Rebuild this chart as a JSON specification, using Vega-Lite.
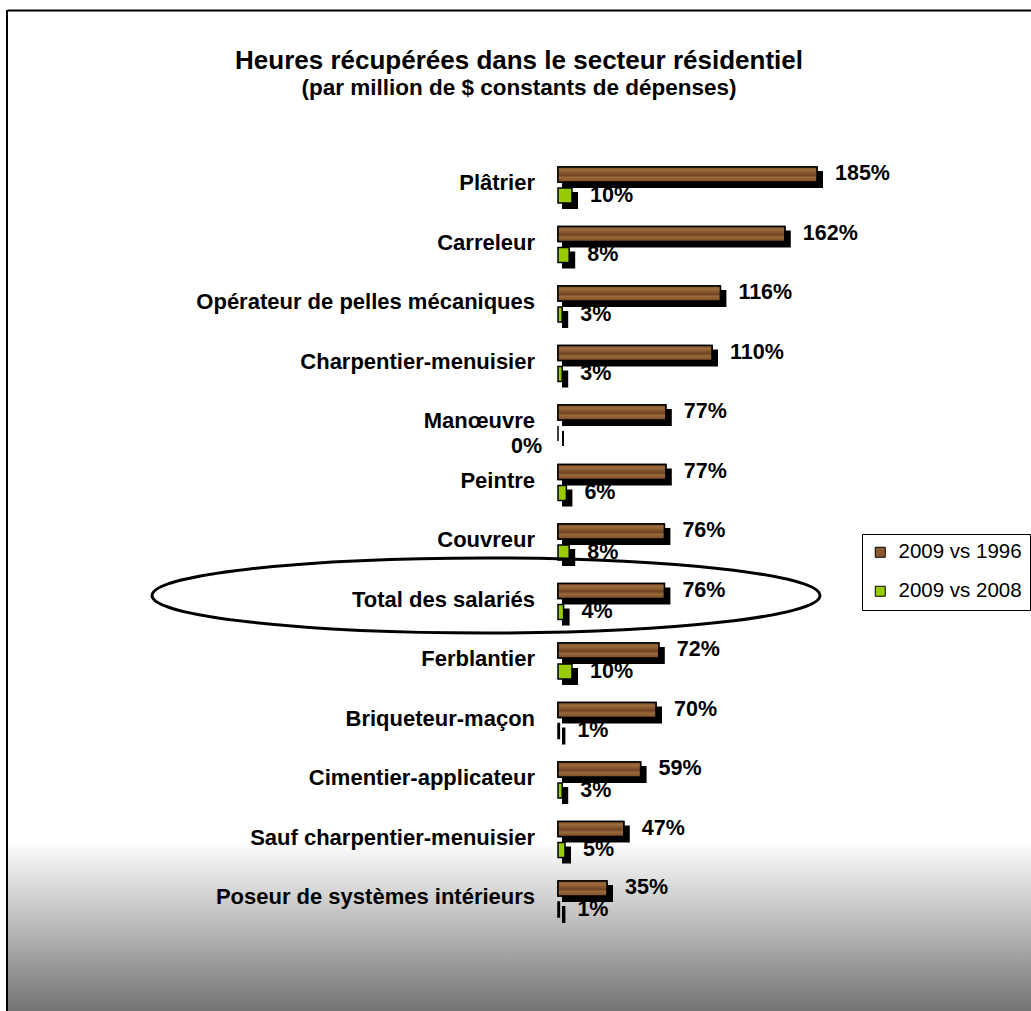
{
  "$schema": "https://vega.github.io/schema/vega-lite/v6.json",
  "width": 1024,
  "height": 1001,
  "autosize": {"type": "none"},
  "padding": {"left": 7, "top": 10, "right": 0, "bottom": 0},
  "background": "white",
  "config": {
    "font": "Liberation Sans",
    "view": {
      "stroke": null,
      "fill": {
        "gradient": "linear",
        "x1": 0, "y1": 0, "x2": 0, "y2": 1,
        "stops": [
          {"offset": 0, "color": "#ffffff"},
          {"offset": 0.83, "color": "#ffffff"},
          {"offset": 1, "color": "#747474"}
        ]
      }
    },
    "legend": {
      "orient": "none",
      "legendX": 855,
      "legendY": 524,
      "strokeColor": "black",
      "fillColor": "white",
      "padding": 8,
      "symbolType": "square",
      "symbolSize": 100,
      "symbolStrokeColor": "black",
      "symbolStrokeWidth": 1,
      "labelFont": "Liberation Sans",
      "labelFontSize": 20.5,
      "labelColor": "black",
      "labelOffset": 8,
      "rowPadding": 18,
      "labelLimit": 300
    }
  },
  "title": {
    "text": "Heures récupérées  dans le secteur  résidentiel",
    "subtitle": "(par million de $ constants de dépenses)",
    "font": "Liberation Sans",
    "fontSize": 26,
    "fontWeight": "bold",
    "color": "black",
    "subtitleFont": "Liberation Sans",
    "subtitleFontSize": 22.5,
    "subtitleFontWeight": "bold",
    "subtitleColor": "black",
    "subtitlePadding": 3,
    "anchor": "middle",
    "offset": -90
  },
  "data": {
    "values": [
      {"category": "Plâtrier", "series": "2009 vs 1996", "value": 1.85},
      {"category": "Plâtrier", "series": "2009 vs 2008", "value": 0.10},
      {"category": "Carreleur", "series": "2009 vs 1996", "value": 1.62},
      {"category": "Carreleur", "series": "2009 vs 2008", "value": 0.08},
      {"category": "Opérateur de pelles mécaniques", "series": "2009 vs 1996", "value": 1.16},
      {"category": "Opérateur de pelles mécaniques", "series": "2009 vs 2008", "value": 0.03},
      {"category": "Charpentier-menuisier", "series": "2009 vs 1996", "value": 1.10},
      {"category": "Charpentier-menuisier", "series": "2009 vs 2008", "value": 0.03},
      {"category": "Manœuvre", "series": "2009 vs 1996", "value": 0.77},
      {"category": "Manœuvre", "series": "2009 vs 2008", "value": 0.0},
      {"category": "Peintre", "series": "2009 vs 1996", "value": 0.77},
      {"category": "Peintre", "series": "2009 vs 2008", "value": 0.06},
      {"category": "Couvreur", "series": "2009 vs 1996", "value": 0.76},
      {"category": "Couvreur", "series": "2009 vs 2008", "value": 0.08},
      {"category": "Total des salariés", "series": "2009 vs 1996", "value": 0.76},
      {"category": "Total des salariés", "series": "2009 vs 2008", "value": 0.04},
      {"category": "Ferblantier", "series": "2009 vs 1996", "value": 0.72},
      {"category": "Ferblantier", "series": "2009 vs 2008", "value": 0.10},
      {"category": "Briqueteur-maçon", "series": "2009 vs 1996", "value": 0.70},
      {"category": "Briqueteur-maçon", "series": "2009 vs 2008", "value": 0.01},
      {"category": "Cimentier-applicateur", "series": "2009 vs 1996", "value": 0.59},
      {"category": "Cimentier-applicateur", "series": "2009 vs 2008", "value": 0.03},
      {"category": "Sauf charpentier-menuisier", "series": "2009 vs 1996", "value": 0.47},
      {"category": "Sauf charpentier-menuisier", "series": "2009 vs 2008", "value": 0.05},
      {"category": "Poseur de systèmes intérieurs", "series": "2009 vs 1996", "value": 0.35},
      {"category": "Poseur de systèmes intérieurs", "series": "2009 vs 2008", "value": 0.01}
    ]
  },
  "layer": [
    {
      "data": {"values": [{"edge": "left"}]},
      "mark": {"type": "rule", "color": "black", "strokeWidth": 2},
      "encoding": {
        "x": {"datum": -3.9357, "scale": {"domain": [-3.9357, 3.3786], "nice": false, "zero": false}, "axis": {"orient": "top", "labels": false, "ticks": false, "grid": false, "title": null, "domainColor": "black", "domainWidth": 2}}
      }
    },
    {
      "transform": [{"filter": "datum.series == '2009 vs 1996'"}],
      "mark": {"type": "bar", "color": "black", "stroke": "black", "strokeWidth": 2, "opacity": 1, "height": 15, "xOffset": 5, "x2Offset": 5, "yOffset": -5.5, "y2Offset": -5.5},
      "encoding": {
        "y": {"field": "category", "type": "nominal", "sort": null, "scale": {"range": [145.25, 918.75], "paddingInner": 0, "paddingOuter": 0}, "axis": null},
        "x": {"field": "value", "type": "quantitative"},
        "x2": {"datum": 0}
      }
    },
    {
      "transform": [{"filter": "datum.series == '2009 vs 2008'"}],
      "mark": {"type": "bar", "color": "black", "stroke": "black", "strokeWidth": 2, "opacity": 1, "height": 15, "xOffset": 5, "x2Offset": 5, "yOffset": 15.5, "y2Offset": 15.5},
      "encoding": {
        "y": {"field": "category", "type": "nominal", "sort": null, "axis": null},
        "x": {"field": "value", "type": "quantitative"},
        "x2": {"datum": 0}
      }
    },
    {
      "mark": {"type": "bar", "stroke": "black", "strokeWidth": 1.5},
      "encoding": {
        "y": {"field": "category", "type": "nominal", "sort": null, "axis": null},
        "x": {"field": "value", "type": "quantitative"},
        "x2": {"datum": 0},
        "yOffset": {"field": "series", "type": "nominal", "scale": {"paddingInner": 0.2857, "paddingOuter": 0.5595}},
        "color": {
          "field": "series",
          "type": "nominal",
          "scale": {"domain": ["2009 vs 1996", "2009 vs 2008"], "range": ["#8c5a30", "#99cc00"]},
          "legend": {"title": null}
        }
      }
    },
    {
      "transform": [{"filter": "datum.series == '2009 vs 1996'"}],
      "mark": {
        "type": "bar", "stroke": "black", "strokeWidth": 1.5,
        "fill": {
          "gradient": "linear", "x1": 0, "y1": 0, "x2": 0, "y2": 1,
          "stops": [
            {"offset": 0, "color": "#7e4f28"},
            {"offset": 0.2, "color": "#9c6b3d"},
            {"offset": 0.4, "color": "#85552d"},
            {"offset": 0.55, "color": "#6f4322"},
            {"offset": 0.7, "color": "#9a693b"},
            {"offset": 1, "color": "#7a4b26"}
          ]
        }
      },
      "encoding": {
        "y": {"field": "category", "type": "nominal", "sort": null, "axis": null},
        "x": {"field": "value", "type": "quantitative"},
        "x2": {"datum": 0},
        "yOffset": {"field": "series", "type": "nominal"}
      }
    },
    {
      "transform": [{"filter": "datum.value != 0"}],
      "mark": {"type": "text", "align": "left", "baseline": "middle", "dx": 18, "fontSize": 21.5, "fontWeight": "bold", "color": "black"},
      "encoding": {
        "y": {"field": "category", "type": "nominal", "sort": null, "axis": null},
        "x": {"field": "value", "type": "quantitative"},
        "yOffset": {"field": "series", "type": "nominal"},
        "text": {"field": "value", "type": "quantitative", "format": ".0%"}
      }
    },
    {
      "transform": [{"filter": "datum.value == 0"}],
      "mark": {"type": "text", "align": "right", "baseline": "middle", "dx": -16, "dy": 13, "fontSize": 21.5, "fontWeight": "bold", "color": "black"},
      "encoding": {
        "y": {"field": "category", "type": "nominal", "sort": null, "axis": null},
        "x": {"field": "value", "type": "quantitative"},
        "yOffset": {"field": "series", "type": "nominal"},
        "text": {"field": "value", "type": "quantitative", "format": ".0%"}
      }
    },
    {
      "transform": [{"filter": "datum.series == '2009 vs 1996'"}],
      "mark": {"type": "text", "align": "right", "baseline": "middle", "dy": -2, "fontSize": 22, "fontWeight": "bold", "color": "black"},
      "encoding": {
        "y": {"field": "category", "type": "nominal", "sort": null, "axis": null},
        "x": {"datum": -0.164},
        "text": {"field": "category"}
      }
    },
    {
      "transform": [{"filter": "datum.category == 'Total des salariés' && datum.series == '2009 vs 1996'"}],
      "mark": {"type": "point", "shape": "M -1 0 A 1 0.1123 0 1 0 1 0 A 1 0.1123 0 1 0 -1 0 Z", "size": 446224, "filled": false, "stroke": "black", "strokeWidth": 3, "opacity": 1, "yOffset": -6},
      "encoding": {
        "y": {"field": "category", "type": "nominal", "sort": null, "axis": null},
        "x": {"datum": -0.514}
      }
    }
  ]
}
